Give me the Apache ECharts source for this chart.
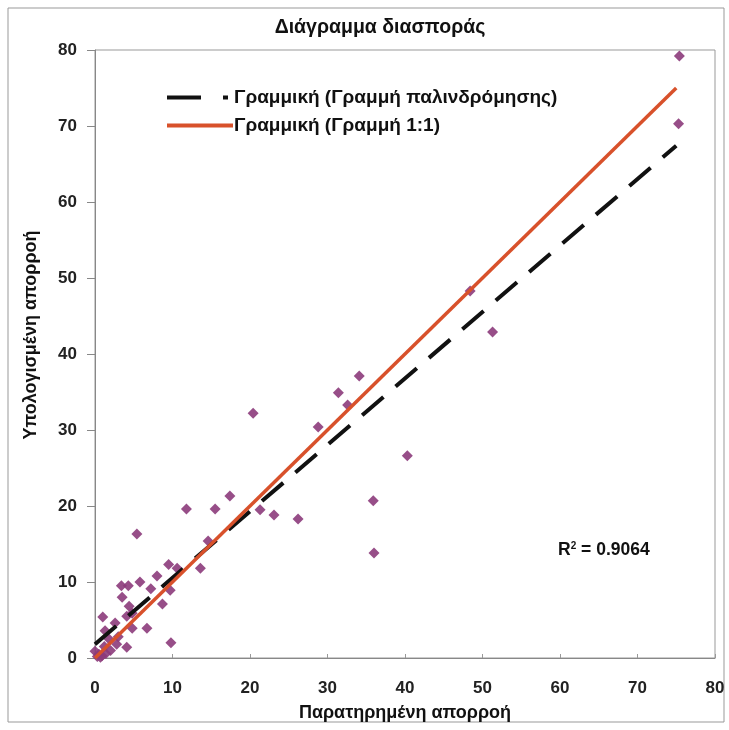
<!DOCTYPE html>
<html>
<head>
<meta charset="utf-8">
<script src="https://cdn.jsdelivr.net/npm/echarts@6/dist/echarts.min.js"></script>
<style>html,body{margin:0;padding:0;background:#fff;}#c{width:729px;height:730px;}</style>
</head>
<body>
<div id="c"></div>
<script>
var titleText = 'Διάγραμμα διασποράς';
var xName = 'Παρατηρημένη απορροή';
var yName = 'Υπολογισμένη απορροή';
var regName = 'Γραμμική (Γραμμή παλινδρόμησης)';
var oneName = 'Γραμμική (Γραμμή 1:1)';
var r2Text = '0.9064';
var observed = [75.4,75.3,48.4,51.3,34.1,31.4,32.6,28.8,40.3,35.9,36.0,20.4,17.4,15.5,11.8,21.3,23.1,26.2,14.6,13.6,5.4,9.5,10.6,8.0,5.8,3.4,4.3,7.2,9.7,3.5,8.7,4.4,4.1,4.8,1.0,2.6,4.8,6.7,1.3,4.1,9.8,2.8,0.0,0.5,0.9,1.4,0.7,2.0,1.8,0.3,3.0,1.2];
var computed = [79.2,70.3,48.3,42.9,37.1,34.9,33.3,30.4,26.6,20.7,13.8,32.2,21.3,19.6,19.6,19.5,18.8,18.3,15.4,11.8,16.3,12.3,11.8,10.8,10.0,9.5,9.5,9.1,8.9,8.0,7.1,6.8,5.5,5.9,5.4,4.6,3.9,3.9,3.6,1.4,2.0,1.8,0.9,0.5,0.3,0.6,0.1,1.0,2.5,0.2,2.8,1.5];
var regX = [0, 75];
var regY = [1.8, 67.4];
var oneX = [0, 75];
var oneY = [0, 75];

var pts = observed.map(function(v,i){return [v, computed[i]];});
var reg = regX.map(function(v,i){return [v, regY[i]];});
var one = oneX.map(function(v,i){return [v, oneY[i]];});
var FONT = '"Liberation Sans", Arial, sans-serif';
var chart = echarts.init(document.getElementById('c'), null, {renderer:'canvas'});
chart.setOption({
  animation:false,
  backgroundColor:'#fff',
  title:{text:titleText, left:375, top:13, textAlign:'center',
    textStyle:{fontFamily:FONT, fontWeight:'bold', fontSize:19.5, color:'#111'}},
  grid:{left:95, right:14, top:50, bottom:72, show:true, borderColor:'#999', borderWidth:1},
  legend:{left:165, top:88, padding:0, orient:'vertical', itemGap:9, itemWidth:66, itemHeight:18,
    data:[
      {name:regName, itemStyle:{opacity:0}, lineStyle:{color:'#111', width:4, type:[34,22,5,40]}},
      {name:oneName, itemStyle:{opacity:0}, lineStyle:{color:'#d8512b', width:4}}
    ],
    textStyle:{fontFamily:FONT, fontWeight:'bold', fontSize:19, color:'#111', padding:[0,0,0,-4]}},
  xAxis:{type:'value', min:0, max:80, interval:10,
    name:xName, nameLocation:'middle', nameGap:46,
    nameTextStyle:{fontFamily:FONT, fontWeight:'bold', fontSize:18, color:'#111'},
    axisLine:{show:true, lineStyle:{color:'#888'}},
    axisTick:{show:true, inside:true, length:4, lineStyle:{color:'#999'}},
    axisLabel:{fontFamily:FONT, fontWeight:'bold', fontSize:17, color:'#222', margin:22},
    splitLine:{show:false}},
  yAxis:{type:'value', min:0, max:80, interval:10,
    name:yName, nameLocation:'middle', nameGap:55, nameRotate:90,
    nameTextStyle:{fontFamily:FONT, fontWeight:'bold', fontSize:18, color:'#111', padding:[0,0,0,38]},
    axisLine:{show:true, lineStyle:{color:'#888'}},
    axisTick:{show:true, length:8, lineStyle:{color:'#888'}},
    axisLabel:{fontFamily:FONT, fontWeight:'bold', fontSize:17, color:'#222', margin:18},
    splitLine:{show:false}},
  series:[
    {name:'data', type:'scatter', data:pts, symbol:'diamond', symbolSize:11,
     itemStyle:{color:'#8c3b7b', opacity:0.9}, z:2},
    {name:regName, type:'line', data:reg, showSymbol:false, symbol:'none', color:'#111',
     lineStyle:{color:'#111', width:4, type:[28,16]}, z:3},
    {name:oneName, type:'line', data:one, showSymbol:false, symbol:'none', color:'#d8512b',
     lineStyle:{color:'#d8512b', width:3.5, type:'solid'}, z:4}
  ],
  graphic:[
    {type:'rect', shape:{x:8, y:8, width:716, height:714}, style:{fill:'none', stroke:'#999', lineWidth:1}, silent:true},
    {type:'text', left:558, top:541, style:{text:'{a|R}{s|2}{a| = '+r2Text+'}',
      rich:{a:{fontFamily:FONT, fontWeight:'bold', fontSize:17.5, fill:'#111'},
            s:{fontFamily:FONT, fontWeight:'bold', fontSize:10, fill:'#111', verticalAlign:'top', padding:[0,0,8,0]}}}}
  ]
});
</script>
</body>
</html>
